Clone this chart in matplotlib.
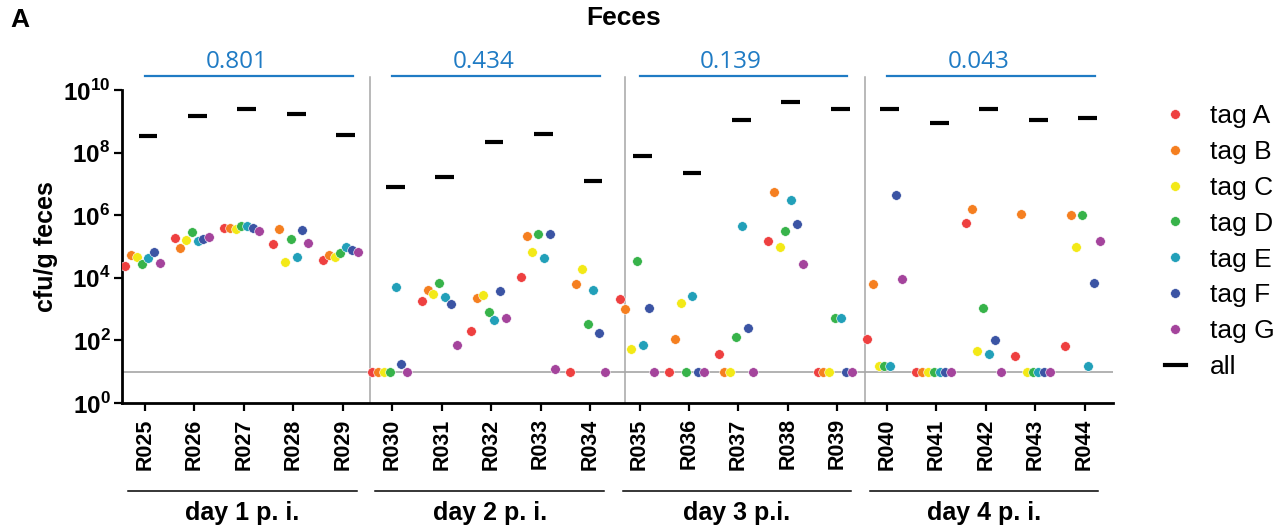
import numpy as np
import matplotlib
matplotlib.use("Agg")
import matplotlib.pyplot as plt
from matplotlib.lines import Line2D

plt.rcParams['font.family'] = ['Liberation Sans', 'DejaVu Sans']
plt.rcParams['mathtext.fontset'] = 'custom'
plt.rcParams['mathtext.rm'] = 'Liberation Sans:bold'
plt.rcParams['mathtext.bf'] = 'Liberation Sans:bold'

# samples (mice) and groups
samples = ['R025', 'R026', 'R027', 'R028', 'R029',
           'R030', 'R031', 'R032', 'R033', 'R034',
           'R035', 'R036', 'R037', 'R038', 'R039',
           'R040', 'R041', 'R042', 'R043', 'R044']
days = ['day 1 p. i.', 'day 2 p. i.', 'day 3 p.i.', 'day 4 p. i.']
pvals = ['0.801', '0.434', '0.139', '0.043']

tags = ['tag A', 'tag B', 'tag C', 'tag D', 'tag E', 'tag F', 'tag G']
tag_colors = ['#ee4040', '#f57f20', '#f3e917', '#37b34a', '#22a0b9', '#3b54a4', '#a4449c']

# log10 cfu/g feces (1.0 = detection limit)
tag_a = [4.39, 5.27, 5.59, 5.07, 4.58, 1.0, 3.27, 2.29, 4.03, 1.0,
         3.33, 1.0, 1.55, 5.19, 1.0, 2.05, 1.0, 5.74, 1.51, 1.83]
tag_b = [4.74, 4.95, 5.60, 5.57, 4.74, 1.0, 3.62, 3.37, 5.35, 3.80,
         2.99, 2.06, 1.0, 6.73, 1.0, 3.81, 1.0, 6.21, 6.05, 6.00]
tag_c = [4.68, 5.20, 5.57, 4.51, 4.66, 1.0, 3.49, 3.45, 4.83, 4.29,
         1.74, 3.21, 1.0, 4.99, 1.0, 1.18, 1.0, 1.67, 1.0, 4.99]
tag_d = [4.45, 5.46, 5.65, 5.24, 4.78, 1.0, 3.82, 2.90, 5.41, 2.52,
         4.55, 1.0, 2.12, 5.49, 2.70, 1.18, 1.0, 3.04, 1.0, 6.00]
tag_e = [4.62, 5.17, 5.66, 4.68, 4.97, 3.70, 3.40, 2.66, 4.62, 3.62,
         1.85, 3.42, 5.64, 6.50, 2.70, 1.18, 1.0, 1.56, 1.0, 1.18]
tag_f = [4.81, 5.23, 5.60, 5.52, 4.90, 1.24, 3.15, 3.59, 5.41, 2.25,
         3.04, 1.0, 2.39, 5.73, 1.0, 6.65, 1.0, 2.02, 1.0, 3.85]
tag_g = [4.48, 5.30, 5.49, 5.11, 4.81, 1.0, 1.84, 2.71, 1.09, 1.0,
         1.0, 1.0, 1.0, 4.45, 1.0, 3.95, 1.0, 1.0, 1.0, 5.16]
all_tags = [8.53, 9.18, 9.39, 9.24, 8.55, 6.91, 7.23, 8.34, 8.60, 7.10,
            7.89, 7.34, 9.05, 9.62, 9.40, 9.40, 8.94, 9.39, 9.04, 9.12]
detection_limit = 10

tag_values = [tag_a, tag_b, tag_c, tag_d, tag_e, tag_f, tag_g]

fig = plt.figure(figsize=(12.85, 5.3), dpi=100)
ax = fig.add_axes([0.0947, 0.2396, 0.866 - 0.0947, 0.8302 - 0.2396])

x = np.arange(len(samples))
offsets = (np.arange(len(tags)) - 3) * 0.117 - 0.05
blue = '#1f7bc4'
grey = '#a6a6a6'

ax.axhline(detection_limit, color=grey, lw=1.2, zorder=1)
for sep in [4.55, 9.7, 14.55]:
    ax.axvline(sep, ymin=0, ymax=1.043, color=grey, lw=1.1, clip_on=False, zorder=1)

for vals, col, off, name in zip(tag_values, tag_colors, offsets, tags):
    ax.scatter(x + off, 10 ** np.array(vals), s=48, color=col, edgecolor='white',
               linewidth=0.4, zorder=3, label=name)

ax.hlines(10 ** np.array(all_tags), x + 0.06 - 0.19, x + 0.06 + 0.19,
          color='black', lw=3, zorder=3)

ax.set_yscale('log')
ax.set_ylim(1, 1e10)
ax.set_xlim(-0.47, 19.57)
yt = [1, 1e2, 1e4, 1e6, 1e8, 1e10]
ax.set_yticks(yt)
ax.set_yticklabels([r'$10^{%d}$' % int(np.log10(v)) for v in yt], fontsize=17.5)
ax.yaxis.set_minor_locator(matplotlib.ticker.NullLocator())
ax.set_xticks(x)
ax.set_xticklabels(samples, rotation=90, fontsize=15.5, fontweight='bold')
ax.tick_params(axis='y', length=6, width=1.6, pad=2)
ax.tick_params(axis='x', length=6, width=1.6, pad=5)
for s in ['top', 'right']:
    ax.spines[s].set_visible(False)
for s in ['left', 'bottom']:
    ax.spines[s].set_linewidth(2)
ax.set_ylabel('cfu/g feces', fontsize=18, fontweight='bold', labelpad=4)

trans = ax.get_xaxis_transform()
for i, (day, p) in enumerate(zip(days, pvals)):
    first = i * 5
    ax.plot([first, first + 4.2], [1.045, 1.045], color=blue, lw=1.6,
            transform=trans, clip_on=False)
    ax.text(first + 1.85, 1.089, p, color=blue, fontsize=17.5, family='Open Sans',
            ha='center', va='center', transform=trans)
    ax.plot([first - 0.34, first + 4.28], [-0.28, -0.28], color='black', lw=1.1,
            transform=trans, clip_on=False)
    ax.text(first + 1.97, -0.351, day, fontsize=18, fontweight='bold',
            ha='center', va='center', transform=trans)

fig.text(0.485, 0.966, 'Feces', fontsize=19, fontweight='bold', ha='center', va='center')
fig.text(0.008, 0.962, 'A', fontsize=19, fontweight='bold', ha='left', va='center')

handles = [Line2D([], [], ls='none', marker='o', ms=7, color=c, mec='white', mew=0.4)
           for c in tag_colors]
handles.append(Line2D([], [], color='black', lw=3))
ax.legend(handles, tags + ['all'], loc='upper left', bbox_to_anchor=(1165 / 1285, 1 - 104 / 530),
          bbox_transform=fig.transFigure, frameon=False, fontsize=19, handlelength=0.78,
          handletextpad=0.92, labelspacing=0.45, borderpad=0, borderaxespad=0)

fig.savefig('out.png', dpi=100)
